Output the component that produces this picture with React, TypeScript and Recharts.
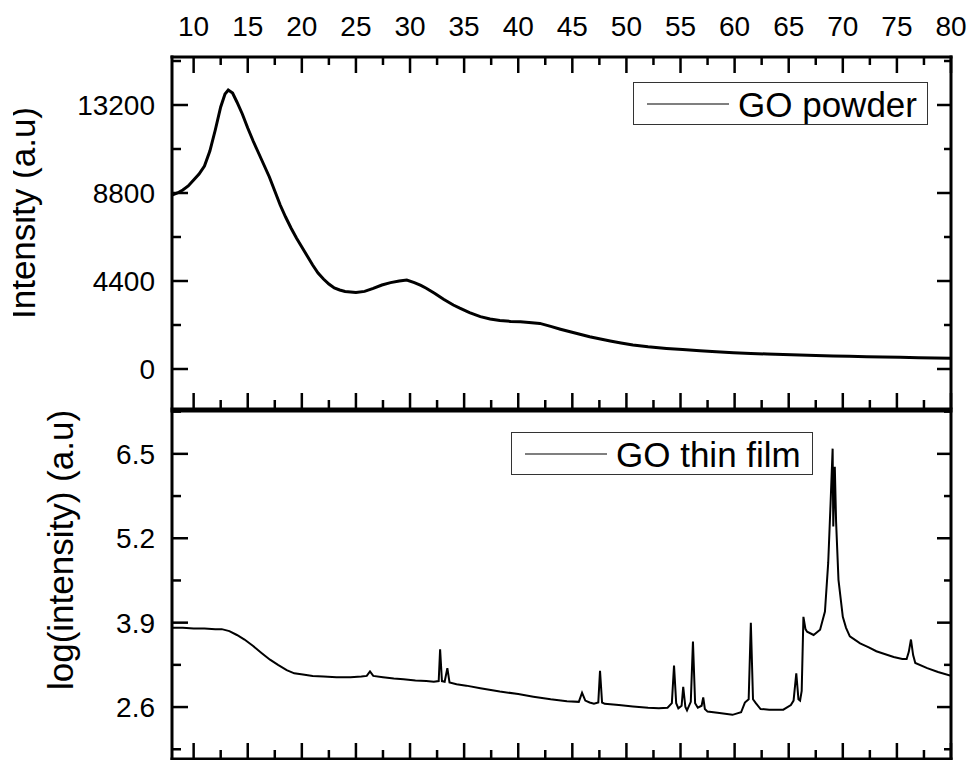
import { Legend, Line, LineChart, XAxis, YAxis } from "recharts";

const FONT = "'Liberation Sans', Arial, Helvetica, sans-serif";

// GO powder: 2-theta (deg) and intensity (a.u)
const powderTheta = [
  8.0, 8.5, 9.0, 9.5, 10.0, 10.5, 11.0, 11.5, 12.0, 12.5, 12.9, 13.2, 13.6, 14.0, 14.5, 15.0, 15.5,
  16.0, 16.5, 17.0, 17.5, 18.0, 18.5, 19.0, 19.5, 20.0, 20.5, 21.0, 21.5, 22.0, 22.5, 23.0, 23.5,
  24.0, 25.0, 25.8, 26.6, 27.4, 28.2, 29.0, 29.7, 30.4, 31.0, 31.5, 32.3, 33.1, 34.0, 34.6, 35.5,
  36.5, 37.4, 38.3, 39.3, 40.2, 41.0, 42.0, 43.0, 43.9, 44.8, 45.7, 46.6, 47.6, 48.5, 49.5, 50.6,
  52.0, 53.7, 55.2, 56.8, 58.3, 59.9, 61.5, 63.0, 64.5, 66.0, 67.5, 69.1, 70.6, 72.2, 73.7, 75.3,
  77.0, 78.5, 80.0,
];
const powderIntensity = [
  8700, 8800, 8950, 9150, 9450, 9750, 10150, 10900, 11950, 13100, 13750, 13950, 13800, 13350, 12750,
  12050, 11400, 10800, 10200, 9600, 8900, 8200, 7600, 7050, 6550, 6100, 5650, 5200, 4800, 4500, 4250,
  4050, 3950, 3880, 3820, 3880, 4030, 4200, 4320, 4400, 4450, 4320, 4180, 4040, 3780, 3490, 3200,
  3040, 2820, 2620, 2500, 2420, 2380, 2360, 2330, 2280, 2130, 1990, 1860, 1740, 1610, 1500, 1400,
  1300, 1200, 1110, 1030, 970, 910, 860, 815, 780, 750, 725, 700, 675, 650, 632, 615, 600, 585, 565,
  550, 535,
];

// GO thin film: 2-theta (deg) and log(intensity)
const filmTheta = [
  8.0, 9.0, 10.0, 11.0, 12.0, 12.6, 13.3, 14.0, 14.7, 15.5, 16.3, 17.06, 17.8, 18.6, 19.3, 20.1, 21.0,
  22.0, 23.2, 24.5, 25.5, 26.0, 26.3, 26.6, 27.5, 28.5, 29.4, 30.5, 31.5, 32.2, 32.65, 32.78, 32.95,
  33.2, 33.45, 33.65, 34.3, 35.2, 36.5, 38.3, 40.0, 41.4, 43.0, 44.5, 45.6, 45.9, 46.2, 46.6, 47.0,
  47.4, 47.56, 47.75, 48.0, 49.3, 50.6, 52.0, 53.0, 53.8, 54.2, 54.4, 54.6, 54.8, 55.1, 55.25, 55.45,
  55.6, 55.95, 56.15, 56.35, 56.6, 56.95, 57.1, 57.25, 57.5, 58.6, 59.8, 60.6, 60.95, 61.3, 61.5,
  61.7, 61.96, 62.4, 63.2, 64.5, 65.2, 65.45, 65.7, 65.9, 66.05, 66.2, 66.36, 66.55, 66.7, 67.3, 67.9,
  68.35, 68.65, 68.87, 69.06, 69.12, 69.26, 69.38, 69.6, 70.0, 70.3, 70.65, 71.6, 72.4, 73.1, 74.0,
  74.7, 75.5, 75.9, 76.1, 76.3, 76.5, 76.7, 77.8, 78.8, 80.0,
];
const filmLogIntensity = [
  3.82, 3.82, 3.81, 3.81, 3.8, 3.8, 3.77, 3.71, 3.64, 3.54, 3.43, 3.33, 3.25, 3.17, 3.12, 3.1, 3.08,
  3.07, 3.06, 3.06, 3.07, 3.08, 3.15, 3.08, 3.06, 3.04, 3.03, 3.01, 3.0, 2.99, 3.0, 3.49, 3.0, 2.99,
  3.2, 2.98, 2.95, 2.93, 2.89, 2.84, 2.8, 2.76, 2.72, 2.69, 2.68, 2.82, 2.7, 2.67, 2.65, 2.67, 3.16,
  2.67, 2.65, 2.63, 2.61, 2.59, 2.58, 2.59, 2.66, 3.24, 2.66, 2.58, 2.62, 2.91, 2.6, 2.55, 2.68, 3.61,
  2.66, 2.59, 2.62, 2.75, 2.57, 2.53, 2.51, 2.48, 2.52, 2.67, 2.72, 3.9, 2.72, 2.66, 2.57, 2.56, 2.56,
  2.63, 2.7, 3.12, 2.72, 2.7, 2.85, 3.99, 3.8, 3.76, 3.71, 3.79, 4.07, 4.82, 5.74, 6.58, 5.38, 6.3,
  5.45, 4.56, 3.99, 3.82, 3.69, 3.58, 3.52, 3.46, 3.41, 3.37, 3.34, 3.34, 3.45, 3.64, 3.4, 3.28, 3.2,
  3.14, 3.08,
];

const xMajorTicks = [10, 15, 20, 25, 30, 35, 40, 45, 50, 55, 60, 65, 70, 75, 80];
const xMinorTicks = [12.5, 17.5, 22.5, 27.5, 32.5, 37.5, 42.5, 47.5, 52.5, 57.5, 62.5, 67.5, 72.5, 77.5];
const powderMajorTicks = [0, 4400, 8800, 13200];
const powderMinorTicks = [2200, 6600, 11000, 15400];
const filmMajorTicks = [2.6, 3.9, 5.2, 6.5];
const filmMinorTicks = [1.95, 3.25, 4.55, 5.85, 7.15];

const powderData = powderTheta.map((t, i) => ({ t, v: powderIntensity[i] }));
const filmData = filmTheta.map((t, i) => ({ t, v: filmLogIntensity[i] }));
const xTicks = [...xMajorTicks, ...xMinorTicks].sort((a, b) => a - b);
const powderTicks = [...powderMajorTicks, ...powderMinorTicks].sort((a, b) => a - b);
const filmTicks = [...filmMajorTicks, ...filmMinorTicks].sort((a, b) => a - b);

const isMajor = (v: number, majors: number[]) => majors.some((m) => Math.abs(m - v) < 1e-9);

const TICK_W = 2.5;
const W = 960;

function leftTick(majors: number[]) {
  return (p: any) => {
    const major = isMajor(p.payload.value, majors);
    return (
      <g>
        <line x1={p.x} x2={p.x + (major ? 16 : 9)} y1={p.y} y2={p.y} stroke="#000" strokeWidth={TICK_W} />
        {major && (
          <text x={p.x - 17} y={p.y + 10} textAnchor="end" fontSize={28} fontFamily={FONT} fill="#000">
            {p.payload.value}
          </text>
        )}
      </g>
    );
  };
}

function rightTick(majors: number[]) {
  return (p: any) => {
    const major = isMajor(p.payload.value, majors);
    return <line x1={p.x} x2={p.x - (major ? 14 : 7)} y1={p.y} y2={p.y} stroke="#000" strokeWidth={TICK_W} />;
  };
}

function topTick(withLabels: boolean) {
  return (p: any) => {
    const major = isMajor(p.payload.value, xMajorTicks);
    return (
      <g>
        <line x1={p.x} x2={p.x} y1={p.y} y2={p.y + (major ? 16 : 8)} stroke="#000" strokeWidth={TICK_W} />
        {withLabels && major && (
          <text x={p.x} y={p.y - 21} textAnchor="middle" fontSize={28} fontFamily={FONT} fill="#000">
            {p.payload.value}
          </text>
        )}
      </g>
    );
  };
}

const bottomTick = (p: any) => {
  const major = isMajor(p.payload.value, xMajorTicks);
  return <line x1={p.x} x2={p.x} y1={p.y} y2={p.y - (major ? 16 : 9)} stroke="#000" strokeWidth={TICK_W} />;
};

function AxisTitle({ text, bx, cy }: { text: string; bx: number; cy: number }) {
  return (
    <text
      x={bx}
      y={cy}
      transform={`rotate(-90 ${bx} ${cy})`}
      textAnchor="middle"
      fontSize={35}
      fontFamily={FONT}
      fill="#000"
    >
      {text}
    </text>
  );
}

function LegendBox({ label, w, h }: { label: string; w: number; h: number }) {
  return (
    <svg width={w} height={h} style={{ display: "block" }}>
      <rect x={0.5} y={0.5} width={w - 1} height={h - 1} fill="#fff" stroke="#333" strokeWidth={1} />
      <line x1={14} x2={96} y1={22} y2={22} stroke="#000" strokeWidth={1.2} />
      <text x={105} y={35} fontSize={35} fontFamily={FONT} fill="#000">
        {label}
      </text>
    </svg>
  );
}

const axisLine = { stroke: "#000", strokeWidth: 3, strokeLinecap: "square" as const };
const margin = { top: 0, right: 21, bottom: 0, left: 9 };

export default function App() {
  return (
    <div style={{ marginLeft: 5, width: W }}>
      <LineChart width={W} height={402} data={powderData} margin={margin}>
        <XAxis
          xAxisId="top"
          orientation="top"
          dataKey="t"
          type="number"
          domain={[8, 80]}
          allowDataOverflow
          ticks={xTicks}
          interval={0}
          height={49}
          tickSize={0}
          tickMargin={0}
          axisLine={axisLine}
          tickLine={false}
          tick={topTick(true)}
        />
        <XAxis
          xAxisId="bottom"
          dataKey="t"
          type="number"
          domain={[8, 80]}
          allowDataOverflow
          ticks={xTicks}
          interval={0}
          height={1}
          tickSize={0}
          tickMargin={0}
          axisLine={axisLine}
          tickLine={false}
          tick={bottomTick}
        />
        <YAxis
          yAxisId="left"
          type="number"
          domain={[-2000, 15600]}
          allowDataOverflow
          ticks={powderTicks}
          interval={0}
          width={150}
          tickSize={0}
          tickMargin={0}
          axisLine={axisLine}
          tickLine={false}
          tick={leftTick(powderMajorTicks)}
          label={<AxisTitle text="Intensity (a.u)" bx={22} cy={205} />}
        />
        <YAxis
          yAxisId="right"
          orientation="right"
          type="number"
          domain={[-2000, 15600]}
          allowDataOverflow
          ticks={powderTicks}
          interval={0}
          width={1}
          tickSize={0}
          tickMargin={0}
          axisLine={axisLine}
          tickLine={false}
          tick={rightTick(powderMajorTicks)}
        />
        <Legend
          layout="horizontal"
          verticalAlign="middle"
          align="center"
          wrapperStyle={{ position: "absolute", left: 620, top: 74, width: 295, height: 43, margin: 0, padding: 0 }}
          content={() => <LegendBox label="GO powder" w={295} h={43} />}
        />
        <Line
          xAxisId="bottom"
          yAxisId="left"
          type="linear"
          dataKey="v"
          name="GO powder"
          stroke="#000"
          strokeWidth={3}
          dot={false}
          isAnimationActive={false}
        />
      </LineChart>
      <LineChart width={W} height={350} data={filmData} margin={margin}>
        <XAxis
          xAxisId="top"
          orientation="top"
          dataKey="t"
          type="number"
          domain={[8, 80]}
          allowDataOverflow
          ticks={[]}
          height={1}
          tickSize={0}
          axisLine={axisLine}
          tickLine={false}
          tick={false}
        />
        <XAxis
          xAxisId="bottom"
          dataKey="t"
          type="number"
          domain={[8, 80]}
          allowDataOverflow
          ticks={xTicks}
          interval={0}
          height={1}
          tickSize={0}
          tickMargin={0}
          axisLine={axisLine}
          tickLine={false}
          tick={bottomTick}
        />
        <YAxis
          yAxisId="left"
          type="number"
          domain={[1.8, 7.16]}
          allowDataOverflow
          ticks={filmTicks}
          interval={0}
          width={150}
          tickSize={0}
          tickMargin={0}
          axisLine={axisLine}
          tickLine={false}
          tick={leftTick(filmMajorTicks)}
          label={<AxisTitle text="log(intensity) (a.u)" bx={59.6} cy={140} />}
        />
        <YAxis
          yAxisId="right"
          orientation="right"
          type="number"
          domain={[1.8, 7.16]}
          allowDataOverflow
          ticks={filmTicks}
          interval={0}
          width={1}
          tickSize={0}
          tickMargin={0}
          axisLine={axisLine}
          tickLine={false}
          tick={rightTick(filmMajorTicks)}
        />
        <Legend
          layout="horizontal"
          verticalAlign="middle"
          align="center"
          wrapperStyle={{ position: "absolute", left: 498, top: 22, width: 302, height: 43, margin: 0, padding: 0 }}
          content={() => <LegendBox label="GO thin film" w={302} h={43} />}
        />
        <Line
          xAxisId="bottom"
          yAxisId="left"
          type="linear"
          dataKey="v"
          name="GO thin film"
          stroke="#000"
          strokeWidth={2}
          dot={false}
          isAnimationActive={false}
        />
      </LineChart>
    </div>
  );
}
